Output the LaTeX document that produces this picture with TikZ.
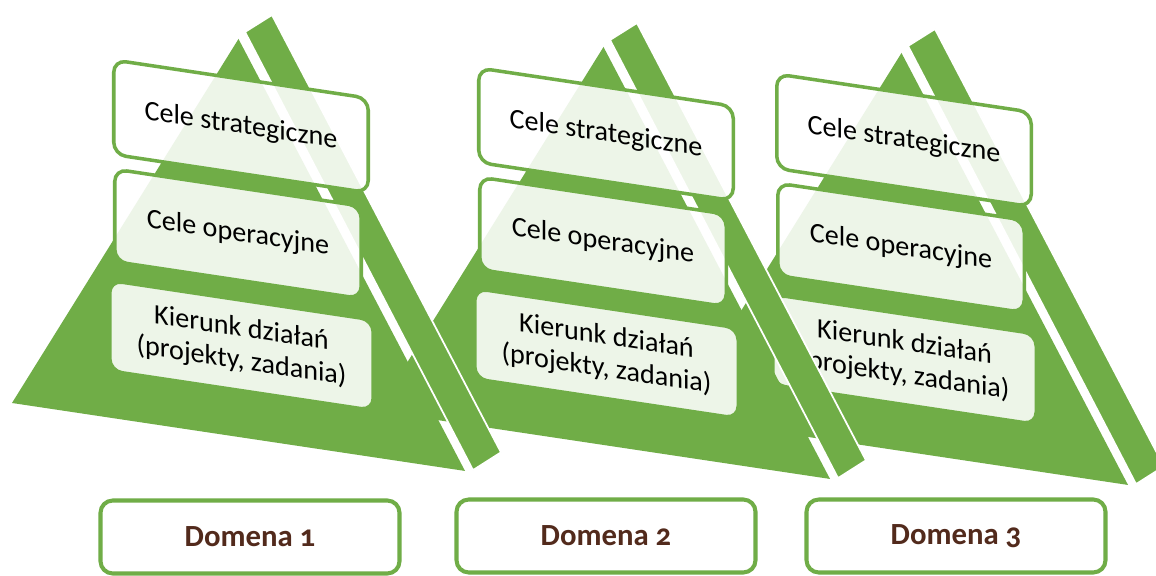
\documentclass[tikz,border=0pt]{standalone}
\usepackage{fontspec}
\setmainfont{Carlito}[Numbers=OldStyle]
\definecolor{pyrgreen}{RGB}{112,173,71}
\definecolor{dombrown}{RGB}{82,42,28}
\tikzset{
  frontface/.style={fill=pyrgreen},
  sideface/.style={fill=pyrgreen, draw=white, line width=1pt, line join=round},
  levelbox/.style={draw=pyrgreen, line width=2pt, fill=white, fill opacity=0.88, text opacity=1,
    rounded corners=7pt, transform shape, align=center, inner sep=0pt,
    font=\fontsize{16}{18.5}\selectfont},
  domainbox/.style={draw=pyrgreen, line width=2.3pt, fill=white, rounded corners=7pt,
    minimum width=59.8mm, minimum height=14.6mm, text=dombrown,
    font=\bfseries\fontsize{17.5}{20}\selectfont}
}
\begin{document}
\begin{tikzpicture}[x=0.2mm, y=0.2mm]
  \useasboundingbox (0,0) rectangle (1156,575);
  \fill[white] (0,0) rectangle (1156,575);

  % pyramids, right one first so the left strips lie on top
  \foreach \i/\sx/\sy in {3/675/158, 2/377/164, 1/12/172} {
    \begin{scope}[shift={(\sx,\sy)}, yslant=-0.15]
      \fill[frontface] (0,0) -- (453,0) -- (226.5,398) -- cycle;
      \filldraw[sideface] (233,406) -- (260,427) -- (489,24) -- (461,2) -- cycle;
      \node[levelbox, minimum width=50.9mm, minimum height=18.9mm] (strat\i) at (229,311) {Cele strategiczne};
      \node[levelbox, minimum width=49.3mm, minimum height=18.5mm] (oper\i) at (226,203) {Cele operacyjne};
      \node[levelbox, minimum width=52.7mm, minimum height=18.1mm] (kier\i) at (229.5,92) {Kierunk działań\\(projekty, zadania)};
    \end{scope}
  }

  % domains
  \node[domainbox] (dom1) at (250,38) {Domena 1};
  \node[domainbox] (dom2) at (606,39) {Domena 2};
  \node[domainbox] (dom3) at (956,39) {Domena 3};
\end{tikzpicture}
\end{document}
